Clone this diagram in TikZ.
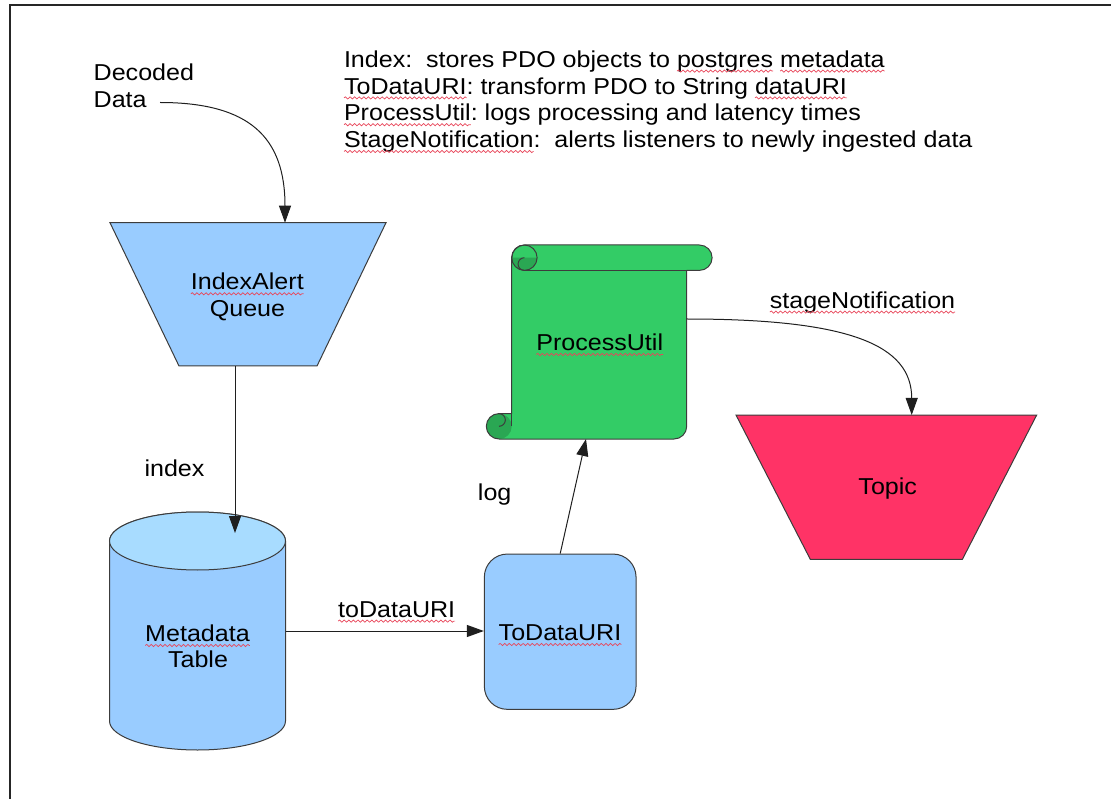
\documentclass[tikz,border=0pt]{standalone}
\usepackage{fontspec}
\setmainfont{Liberation Sans}[FakeStretch=1.09]
\usetikzlibrary{arrows.meta,calc,decorations.pathmorphing}

\definecolor{blueFill}{HTML}{99CCFF}
\definecolor{blueTop}{HTML}{A8DCFF}
\definecolor{greenFill}{HTML}{33CC66}
\definecolor{greenDark}{HTML}{2AA753}
\definecolor{redFill}{HTML}{FF3366}
\definecolor{edge}{HTML}{3C3C3C}
\definecolor{spell}{HTML}{E8465A}

% wavy red underline under a word
\newsavebox\sqbox
\newlength\sqlen
\newcommand\wavy[1]{\sbox\sqbox{#1}\setlength\sqlen{\wd\sqbox}\usebox\sqbox\tikz[overlay]\draw[spellmark] (-\sqlen,-3.8pt) -- (0pt,-3.8pt);}

\tikzset{
  txt/.style={inner sep=0pt, outer sep=0pt, font=\fontsize{23}{27}\selectfont\frenchspacing},
  holder/.style={inner sep=0pt, outer sep=0pt},
  shapeline/.style={draw=edge, line width=1pt},
  conn/.style={draw=black!88, line width=1pt, -{Triangle[length=17pt, width=12pt]}},
  spellmark/.style={draw=spell, line width=0.7pt, decorate,
    decoration={snake, amplitude=1.1pt, segment length=4.6pt}},
}

\begin{document}
\begin{tikzpicture}[x=1pt, y=1pt]
\useasboundingbox (0,0) rectangle (1111,-799);

% page frame
\draw[line width=2pt, draw=black!85] (9.5,-820) -- (9.5,-5.2) -- (1130,-5.2);

% legend
\node[txt, anchor=base west] (desc1) at (344,-67.3) {Index:\ \ stores PDO objects to \wavy{postgres} \wavy{metadata}};
\node[txt, anchor=base west] (desc2) at (344,-94.1) {\wavy{ToDataURI}: transform PDO to String \wavy{dataURI}};
\node[txt, anchor=base west] (desc3) at (344,-120.9) {\wavy{ProcessUtil}: logs processing and latency times};
\node[txt, anchor=base west] (desc4) at (344,-147.7) {\wavy{StageNotification}:\ \ alerts listeners to newly ingested data};

% input label
\node[txt, anchor=base west] (decoded) at (93.7,-81) {Decoded};
\node[txt, anchor=base west] (data) at (93.7,-107.3) {Data};
\coordinate (src) at (160,-102.5);

% IndexAlert queue (inverted trapezoid)
\node[holder, minimum width=276pt, minimum height=143.3pt] (queue) at (248,-294.35) {};
\draw[shapeline, fill=blueFill] (queue.north west) -- (queue.north east)
  -- ($(queue.south east)+(-69,0)$) -- ($(queue.south west)+(69,0)$) -- cycle;
\node[txt, anchor=base] (queue-t1) at (247.3,-290) {\wavy{IndexAlert}};
\node[txt, anchor=base] (queue-t2) at (247.5,-316.7) {Queue};

% metadata table (cylinder)
\node[holder, minimum width=176pt, minimum height=238pt] (table) at (197.5,-631) {};
\draw[shapeline, fill=blueFill] ($(table.north west)+(0,-29)$) -- ($(table.south west)+(0,29)$)
  arc[start angle=180, end angle=360, x radius=88, y radius=29]
  -- ($(table.north east)+(0,-29)$)
  arc[start angle=0, end angle=180, x radius=88, y radius=29] -- cycle;
\draw[shapeline, fill=blueTop] ($(table.north)+(0,-29)$) ellipse[x radius=88, y radius=29];
\node[txt, anchor=base] (table-t1) at (197.5,-641.7) {\wavy{Metadata}};
\node[txt, anchor=base] (table-t2) at (198,-667.7) {Table};

% ToDataURI (rounded box)
\node[shapeline, fill=blueFill, rounded corners=23pt, minimum width=151.7pt,
  minimum height=155.3pt, inner sep=0pt] (todata) at (560.2,-631.7) {};
\node[txt, anchor=base] (todata-t) at (560,-640.7) {\wavy{ToDataURI}};

% ProcessUtil (vertical scroll)
\node[holder, minimum width=175pt, minimum height=194pt] (proc) at (599.2,-342) {};
\begin{scope}[shift={(proc.north west)}]
  \fill[greenFill] (12.7,0) -- (187.7,0) arc[start angle=90, end angle=-90, radius=12.7]
    -- (175,-25.4) -- (175,-181.3) arc[start angle=0, end angle=-90, radius=12.7]
    -- (-12.7,-194) arc[start angle=-90, end angle=-270, radius=12.7]
    -- (0,-168.6) -- (0,-12.7) arc[start angle=180, end angle=90, radius=12.7] -- cycle;
  % rolled ends
  \fill[greenDark] (0,-12.7) arc[start angle=180, end angle=360, radius=12.7] -- cycle;
  \fill[greenDark] (-12.7,-181.3) circle[radius=12.7];
  \draw[shapeline, line join=round] (12.7,0) -- (187.7,0) arc[start angle=90, end angle=-90, radius=12.7]
    -- (175,-25.4) -- (175,-181.3) arc[start angle=0, end angle=-90, radius=12.7]
    -- (-12.7,-194) arc[start angle=-90, end angle=-270, radius=12.7]
    -- (0,-168.6) -- (0,-12.7) arc[start angle=180, end angle=90, radius=12.7] -- cycle;
  \draw[shapeline] (12.7,0) arc[start angle=90, end angle=-270, radius=12.7];
  \draw[shapeline] (12.7,-12.7) arc[start angle=90, end angle=270, radius=6.35];
  \draw[shapeline] (12.7,-25.4) -- (175,-25.4);
  \draw[shapeline] (-12.7,-181.3) arc[start angle=-90, end angle=90, radius=6.35];
  \draw[shapeline] (0,-168.6) -- (0,-181.3);
\end{scope}
\node[txt, anchor=base] (proc-t) at (599.7,-350.7) {\wavy{ProcessUtil}};

% Topic (inverted trapezoid)
\node[holder, minimum width=300.7pt, minimum height=144.3pt] (topic) at (886.35,-487.15) {};
\draw[shapeline, fill=redFill] (topic.north west) -- (topic.north east)
  -- ($(topic.south east)+(-74.3,0)$) -- ($(topic.south west)+(74.3,0)$) -- cycle;
\node[txt, anchor=base] (topic-t) at (887.7,-494) {Topic};

% connectors
\draw[conn] (src) .. controls +(90,0) and +(0,85) .. ($(queue.north west)+(175,0)$);
\draw[conn] ($(queue.south)+(-13,0)$) -- ($(table.north)+(37.5,-21)$);
\draw[conn] (table.east) -- (table.east -| todata.west);
\draw[conn] (todata.north) -- ($(proc.south)+(-13.2,0)$);
\draw[conn] ($(proc.east)+(0,23)$) .. controls +(163,0) and +(0,70) .. ($(topic.north)+(25.35,0)$);

% connector labels
\node[txt, anchor=base] (lbl-index) at (174.5,-476) {index};
\node[txt, anchor=base] (lbl-todata) at (396.7,-617.3) {\wavy{toDataURI}};
\node[txt, anchor=base] (lbl-log) at (494.7,-500.7) {log};
\node[txt, anchor=base] (lbl-stage) at (862.5,-308.3) {\wavy{stageNotification}};
\end{tikzpicture}
\end{document}
